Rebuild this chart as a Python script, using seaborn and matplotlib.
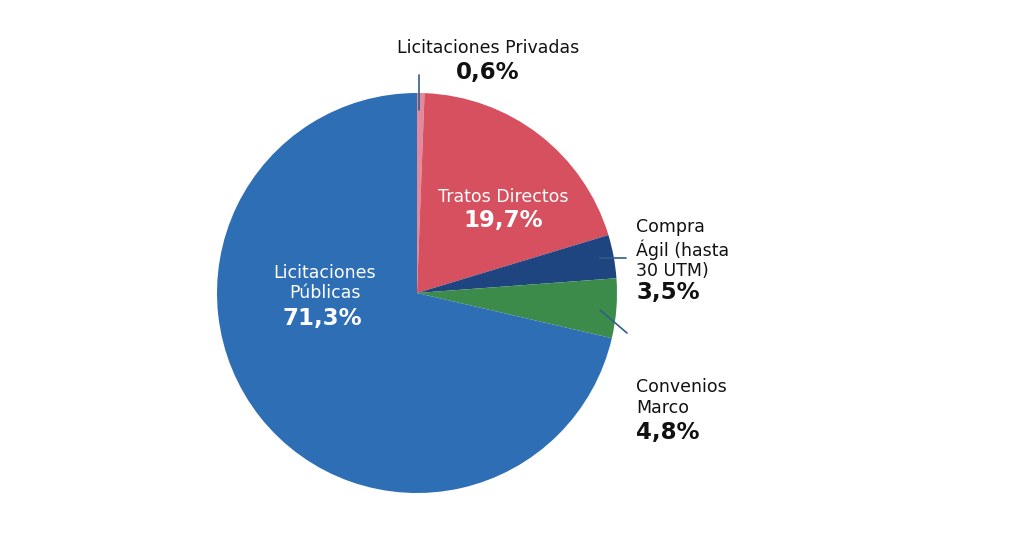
import matplotlib
matplotlib.use("Agg")
import matplotlib.pyplot as plt
import seaborn as sns

categories = ['Licitaciones Privadas', 'Tratos Directos', 'Compra\nÁgil (hasta\n30 UTM)',
              'Convenios\nMarco', 'Licitaciones\nPúblicas']
values     = [0.6, 19.7, 3.5, 4.8, 71.3]
pct_labels = ['0,6%', '19,7%', '3,5%', '4,8%', '71,3%']
colors     = ['#E28A9B', '#D6505F', '#1F4580', '#3D8B4B', '#2E6EB5']

sns.set_theme(style="white")
plt.rcParams['font.family'] = ['DejaVu Sans']

fig = plt.figure(figsize=(10.24, 5.55), dpi=100)
ax = fig.add_axes([217 / 1024, 62 / 555, 400 / 1024, 400 / 555])

ax.pie(values, colors=sns.color_palette(colors), startangle=90, counterclock=False,
       radius=1.0, wedgeprops=dict(linewidth=0))
ax.set_xlim(-1, 1)
ax.set_ylim(-1, 1)
ax.set_aspect('equal')
ax.axis('off')

# label placement: (name x, name y, pct x, pct y, ha, colour)
layout = [
    (0.355, 1.225, 0.355, 1.10, 'center', '#111111'),
    (0.43, 0.48, 0.43, 0.36, 'center', 'white'),
    (1.095, 0.22, 1.095, 0.0, 'left', '#111111'),
    (1.095, -0.522, 1.095, -0.695, 'left', '#111111'),
    (-0.46, 0.05, -0.475, -0.13, 'center', 'white'),
]

for name, pct, (nx, ny, px, py, ha, c) in zip(categories, pct_labels, layout):
    ax.text(nx, ny, name, ha=ha, va='center', fontsize=12.5, color=c,
            linespacing=1.2, clip_on=False)
    ax.text(px, py, pct, ha=ha, va='center', fontsize=16.5, fontweight='bold',
            color=c, clip_on=False)

# leader lines
line_c = '#2F5F8A'
ax.plot([0.008, 0.008], [0.915, 1.09], color=line_c, lw=1.2, clip_on=False)
ax.plot([0.915, 1.045], [0.175, 0.175], color=line_c, lw=1.2, clip_on=False)
ax.plot([0.915, 1.05], [-0.085, -0.2], color=line_c, lw=1.2, clip_on=False)

fig.savefig('out.png', dpi=100, facecolor='white')
